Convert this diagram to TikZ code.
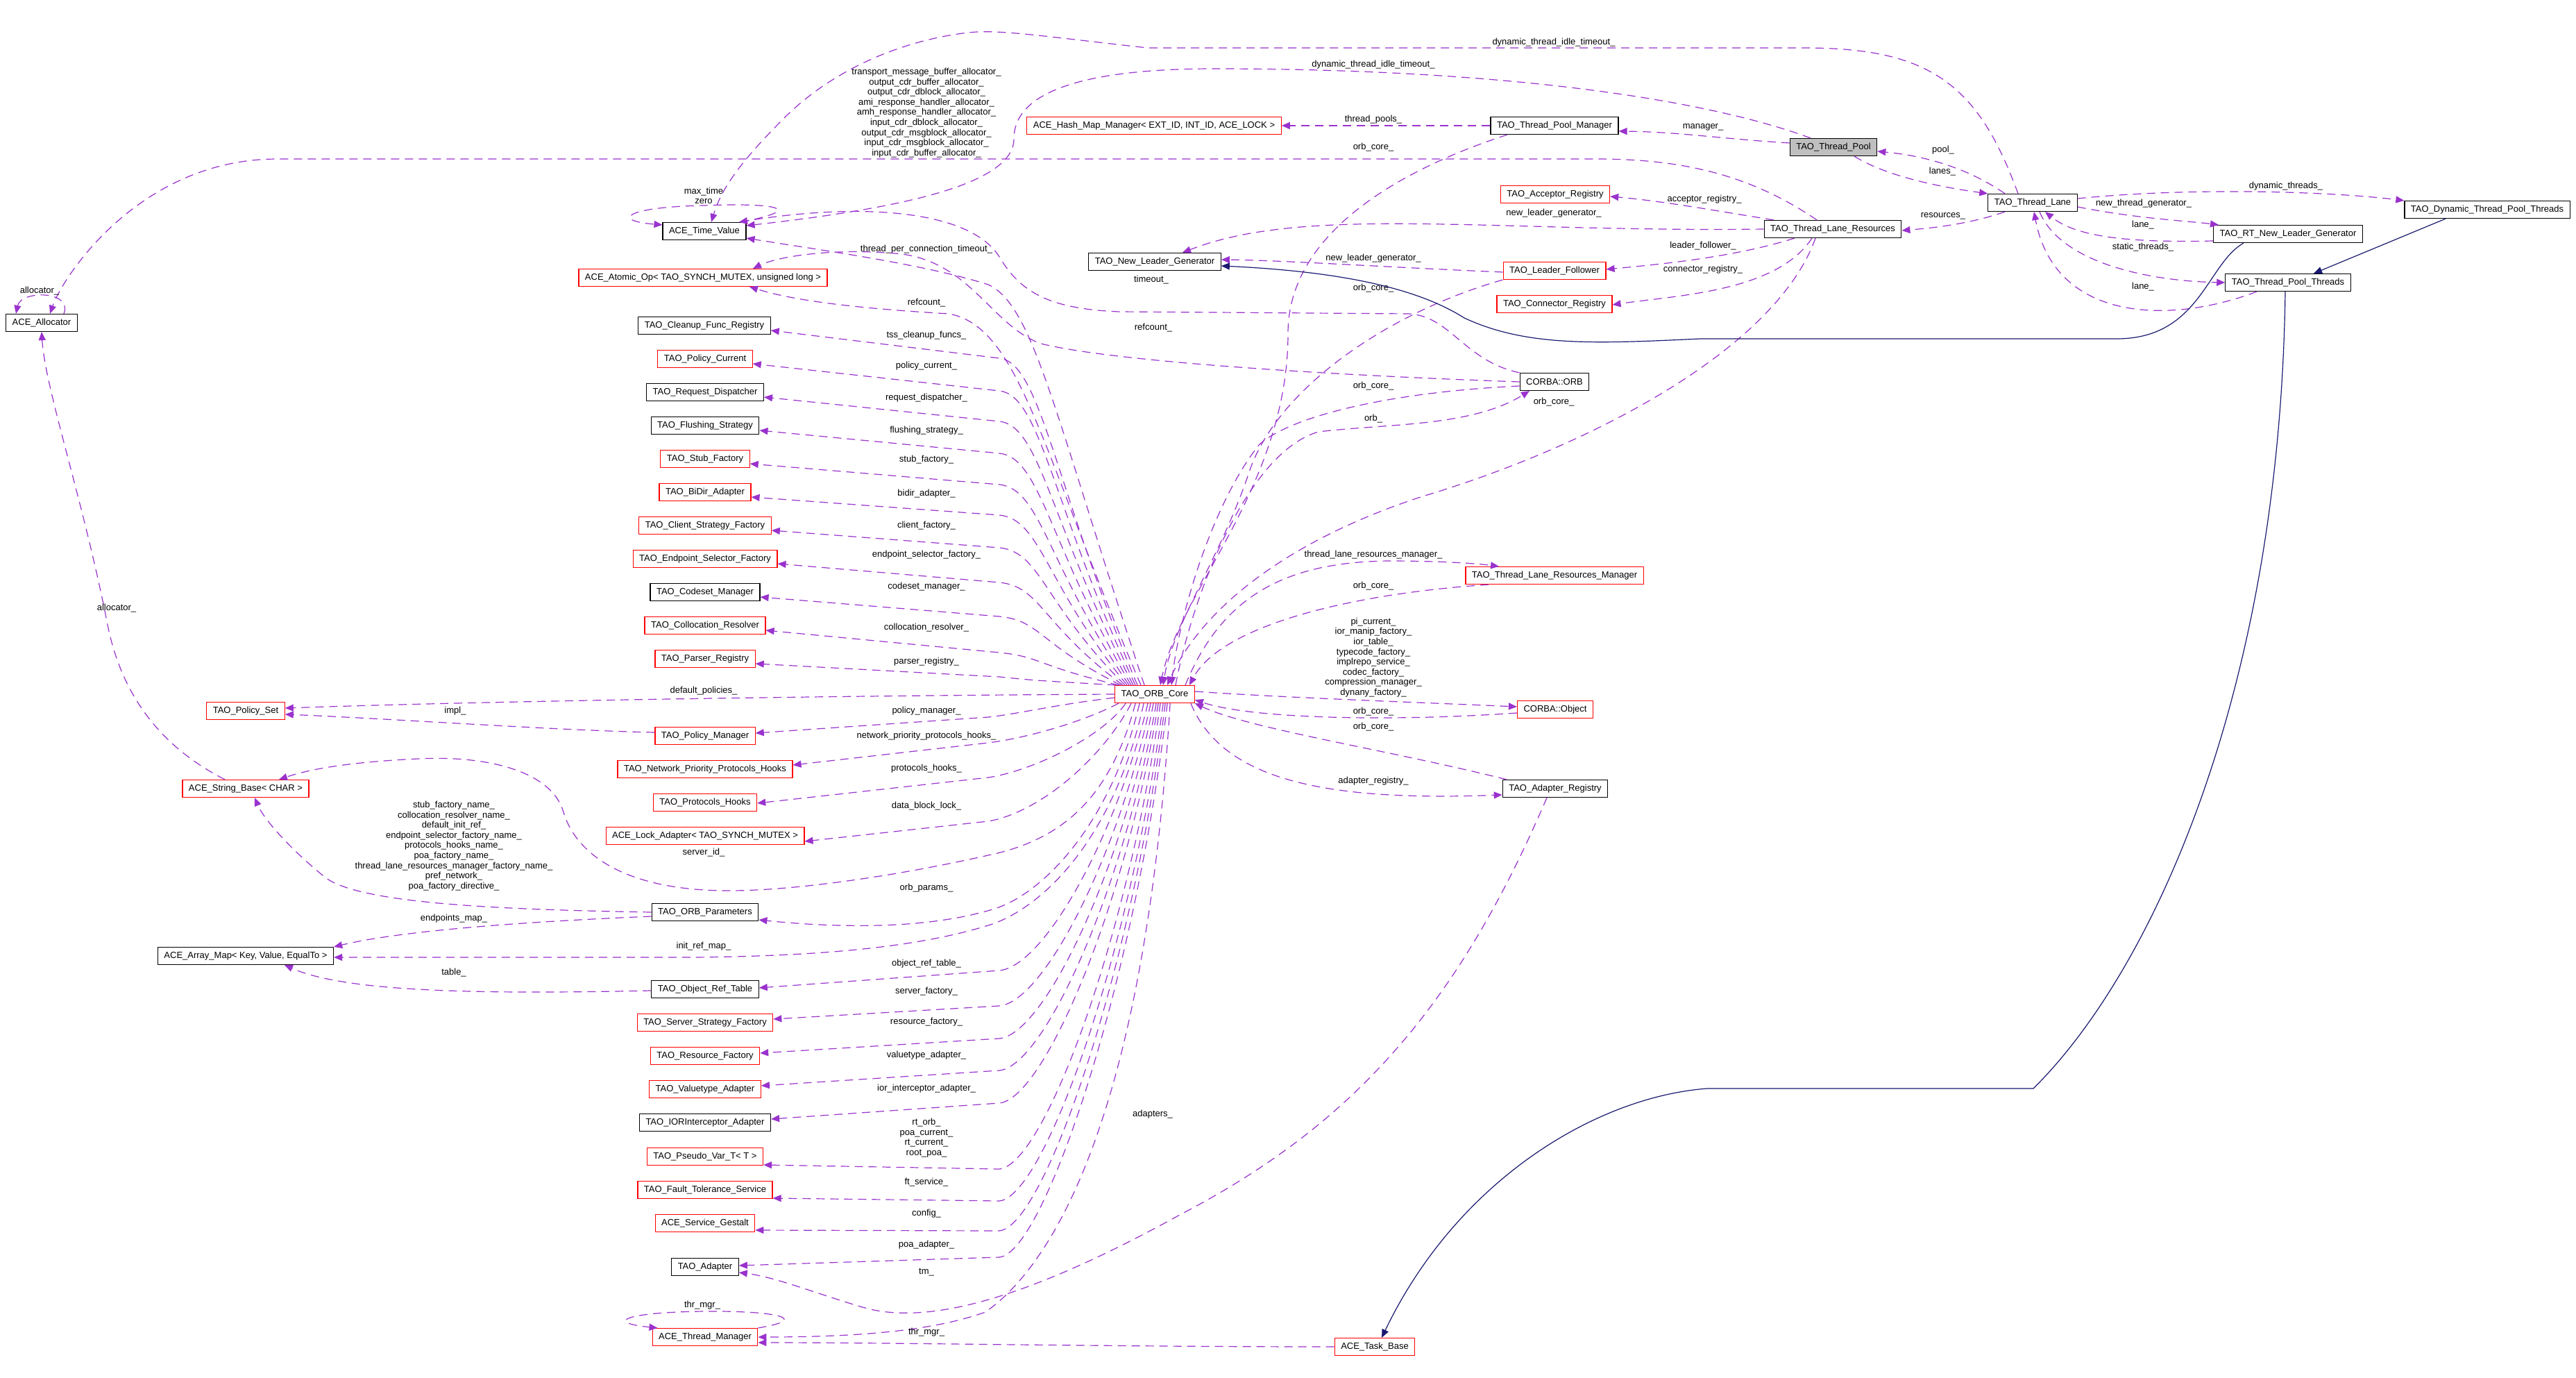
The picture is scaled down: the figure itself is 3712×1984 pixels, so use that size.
\documentclass[tikz,border=0pt]{standalone}
\usepackage{fontspec}
\setmainfont{Liberation Sans}
\usetikzlibrary{arrows.meta}
\definecolor{usecol}{HTML}{9A32CD}
\definecolor{inhcol}{HTML}{191970}
\definecolor{selfcol}{HTML}{BFBFBF}

\begin{document}
\begin{tikzpicture}[x=1pt,y=-1pt,
    cls/.style={draw=black, line width=1.2pt, inner xsep=9pt, inner ysep=0pt, minimum height=25pt, font=\fontsize{13}{15}\selectfont},
    undoc/.style={cls, draw=red},
    focus/.style={cls, fill=selfcol},
    lab/.style={font=\fontsize{13}{14.6}\selectfont, align=center, inner sep=0pt},
    use/.style={draw=usecol, line width=1.2pt, dash pattern=on 12pt off 8pt, -{Triangle[length=12pt,width=10pt]}},
    inh/.style={draw=inhcol, line width=1.2pt, -{Triangle[length=12pt,width=10pt]}}]
   \fill[white] (0,0) rectangle (3712,1984);
   % left part
   \node[cls] (alloc) at (60,465) {ACE\_Allocator};
   \node[undoc] (polset) at (354,1024) {TAO\_Policy\_Set};
   \node[undoc] (strbase) at (354,1136) {ACE\_String\_Base< CHAR >};
   \node[cls] (arraymap) at (354,1377) {ACE\_Array\_Map< Key, Value, EqualTo >};
   % column of members
   \node[cls] (timeval) at (1015,333) {ACE\_Time\_Value};
   \node[undoc] (atomic) at (1013,400) {ACE\_Atomic\_Op< TAO\_SYNCH\_MUTEX, unsigned long >};
   \node[cls] (cleanup) at (1015,469) {TAO\_Cleanup\_Func\_Registry};
   \node[undoc] (polcur) at (1016,517) {TAO\_Policy\_Current};
   \node[cls] (reqdisp) at (1016,565) {TAO\_Request\_Dispatcher};
   \node[cls] (flush) at (1016,613) {TAO\_Flushing\_Strategy};
   \node[undoc] (stubf) at (1016,661) {TAO\_Stub\_Factory};
   \node[undoc] (bidir) at (1016,709) {TAO\_BiDir\_Adapter};
   \node[undoc] (clientf) at (1016,757) {TAO\_Client\_Strategy\_Factory};
   \node[undoc] (epsel) at (1016,805) {TAO\_Endpoint\_Selector\_Factory};
   \node[cls] (codeset) at (1016,853) {TAO\_Codeset\_Manager};
   \node[undoc] (colloc) at (1016,901) {TAO\_Collocation\_Resolver};
   \node[undoc] (parser) at (1016,949) {TAO\_Parser\_Registry};
   \node[undoc] (polmgr) at (1016,1060) {TAO\_Policy\_Manager};
   \node[undoc] (npph) at (1016,1108) {TAO\_Network\_Priority\_Protocols\_Hooks};
   \node[undoc] (prothooks) at (1016,1156) {TAO\_Protocols\_Hooks};
   \node[undoc] (lockad) at (1016,1204) {ACE\_Lock\_Adapter< TAO\_SYNCH\_MUTEX >};
   \node[cls] (orbparams) at (1016,1314) {TAO\_ORB\_Parameters};
   \node[cls] (objref) at (1016,1425) {TAO\_Object\_Ref\_Table};
   \node[undoc] (srvstrat) at (1016,1473) {TAO\_Server\_Strategy\_Factory};
   \node[undoc] (resf) at (1016,1521) {TAO\_Resource\_Factory};
   \node[undoc] (valtype) at (1016,1569) {TAO\_Valuetype\_Adapter};
   \node[cls] (iorint) at (1016,1617) {TAO\_IORInterceptor\_Adapter};
   \node[undoc] (pseudo) at (1016,1666) {TAO\_Pseudo\_Var\_T< T >};
   \node[undoc] (ftserv) at (1016,1714) {TAO\_Fault\_Tolerance\_Service};
   \node[undoc] (gestalt) at (1016,1762) {ACE\_Service\_Gestalt};
   \node[cls] (adapter) at (1016,1825) {TAO\_Adapter};
   \node[undoc] (thrmgr) at (1016,1926) {ACE\_Thread\_Manager};
   % middle
   \node[undoc] (orbcore) at (1664,1000) {TAO\_ORB\_Core};
   \node[undoc] (hashmap) at (1663,181) {ACE\_Hash\_Map\_Manager< EXT\_ID, INT\_ID, ACE\_LOCK >};
   \node[cls] (tnlg) at (1664,377) {TAO\_New\_Leader\_Generator};
   \node[cls] (tpm) at (2240,181) {TAO\_Thread\_Pool\_Manager};
   \node[undoc] (acceptor) at (2241,280) {TAO\_Acceptor\_Registry};
   \node[undoc] (lf) at (2240,390) {TAO\_Leader\_Follower};
   \node[undoc] (connector) at (2240,438) {TAO\_Connector\_Registry};
   \node[cls] (orb) at (2240,550) {CORBA::ORB};
   \node[undoc] (tlrm) at (2240,829) {TAO\_Thread\_Lane\_Resources\_Manager};
   \node[undoc] (object) at (2241,1022) {CORBA::Object};
   \node[cls] (adreg) at (2241,1136) {TAO\_Adapter\_Registry};
   \node[undoc] (taskbase) at (1981,1940) {ACE\_Task\_Base};
   % right part
   \node[focus] (tpool) at (2642,212) {TAO\_Thread\_Pool};
   \node[cls] (tlr) at (2641,330) {TAO\_Thread\_Lane\_Resources};
   \node[cls] (tlane) at (2929,292) {TAO\_Thread\_Lane};
   \node[cls] (rtnlg) at (3297,337) {TAO\_RT\_New\_Leader\_Generator};
   \node[cls] (tpthreads) at (3297,407) {TAO\_Thread\_Pool\_Threads};
   \node[cls] (dyn) at (3584,302) {TAO\_Dynamic\_Thread\_Pool\_Threads};

   % allocators
   \draw[use] ([xshift=-23pt]tlr.north) .. controls (2520,250) and (2420,229) .. (2300,229) -- (400,229) .. controls (200,229) and (90,400) .. ([xshift=12pt]alloc.north);
   \node[lab] (l-allocs) at (1335,162.5) {transport\_message\_buffer\_allocator\_\\output\_cdr\_buffer\_allocator\_\\output\_cdr\_dblock\_allocator\_\\ami\_response\_handler\_allocator\_\\amh\_response\_handler\_allocator\_\\input\_cdr\_dblock\_allocator\_\\output\_cdr\_msgblock\_allocator\_\\input\_cdr\_msgblock\_allocator\_\\input\_cdr\_buffer\_allocator\_};
   \draw[use] ([xshift=32pt]alloc.north) .. controls (105,418) and (30,418) .. ([xshift=-37pt]alloc.north);
   \node[lab] (l-allocself) at (57,419) {allocator\_};
   \draw[use] ([xshift=-30pt]strbase.north) .. controls (230,1075) and (175,1000) .. (155,900) .. controls (120,720) and (65,560) .. (alloc.south);
   \node[lab] (l-allocstr) at (168,876) {allocator\_};

   % time values
   \draw[use] ([xshift=-21pt]tlane.north) .. controls (2850,120) and (2780,69) .. (2600,69) -- (1654,69) .. controls (1500,52) and (1440,42) .. (1395,47) .. controls (1300,58) and (1200,100) .. (1130,170) .. controls (1070,230) and (1040,270) .. ([xshift=10pt]timeval.north);
   \node[lab] (l-dtit1) at (2239,61) {dynamic\_thread\_idle\_timeout\_};
   \draw[use] ([xshift=-33pt]tpool.north) .. controls (2450,140) and (2150,99) .. (1750,99) .. controls (1600,99) and (1461,120) .. (1461,200) .. controls (1461,265) and (1300,300) .. ([yshift=8pt]timeval.east);
   \node[lab] (l-dtit2) at (1979,93) {dynamic\_thread\_idle\_timeout\_};
   \draw[use] ([xshift=-8pt]timeval.north east) .. controls (1170,300) and (1110,292) .. (1015,296) .. controls (900,298) and (880,318) .. ([yshift=-4pt]timeval.north west);
   \node[lab] (l-maxtime) at (1014,282) {max\_time\\zero};
   \draw[use] ([xshift=-15pt]orbcore.north) .. controls (1520,600) and (1490,440) .. (1424,410) .. controls (1330,380) and (1180,360) .. ([yshift=-10pt]timeval.east);
   \node[lab] (l-tpct) at (1335,359) {thread\_per\_connection\_timeout\_};
   \draw[use] (orb.north west) .. controls (2110,520) and (2090,455) .. (2030,452) -- (1613,449) .. controls (1510,445) and (1470,420) .. (1440,370) .. controls (1400,305) and (1250,290) .. ([xshift=50pt]timeval.north);
   \node[lab] (l-timeout) at (1659,403) {timeout\_};

   % refcounts
   \draw[use] ([xshift=-20pt]orbcore.north) .. controls (1500,650) and (1470,470) .. (1367,452) .. controls (1250,445) and (1150,435) .. ([xshift=67pt]atomic.south);
   \node[lab] (l-ref1) at (1335,436) {refcount\_};
   \draw[use] (orb.west) .. controls (1900,540) and (1600,520) .. (1500,495) .. controls (1430,470) and (1400,380) .. (1300,366) .. controls (1200,356) and (1120,370) .. ([xshift=72pt]atomic.north);
   \node[lab] (l-ref2) at (1662,472) {refcount\_};

   % members of the ORB core, upper half
   \foreach \nm/\yt/\ky/\ly/\lab/\sx in {
      cleanup/469/516/483/tss\_cleanup\_funcs\_/-25,
      polcur/517/563/527/policy\_current\_/-28,
      reqdisp/565/607/573/request\_dispatcher\_/-31,
      flush/613/653/620/flushing\_strategy\_/-34,
      stubf/661/698/662/stub\_factory\_/-37,
      bidir/709/742/711/bidir\_adapter\_/-40,
      clientf/757/789/757/client\_factory\_/-43,
      epsel/805/839/799/endpoint\_selector\_factory\_/-46,
      codeset/853/888/845/codeset\_manager\_/-49,
      colloc/901/940/904/collocation\_resolver\_/-52,
      parser/949/975/953/parser\_registry\_/-56}
   {
      \draw[use] ([xshift=\sx pt]orbcore.north) .. controls ({1545+\sx},{987-0.6*(987-\ky)}) and (1500,{\ky+6}) .. (1440,\ky) -- ([yshift=-7pt]\nm.east);
      \node[lab] (l-\nm) at (1335,\ly) {\lab};
   }

   % policies
   \draw[use] (orbcore.west) .. controls (1200,1002) and (700,1010) .. ([yshift=4pt]polset.east);
   \node[lab] (l-defpol) at (1014,995) {default\_policies\_};
   \draw[use] ([yshift=5pt]polmgr.west) .. controls (800,1052) and (560,1035) .. ([yshift=-5pt]polset.east);
   \node[lab] (l-impl) at (656,1024) {impl\_};
   \draw[use] ([yshift=-5pt]orbcore.west) .. controls (1520,1015) and (1470,1028) .. (1424,1033) -- ([yshift=4pt]polmgr.east);
   \node[lab] (l-polmgr) at (1335,1024) {policy\_manager\_};

   % members of the ORB core, lower half
   \draw[use] ([xshift=6pt]orbcore.south west) .. controls (1560,1040) and (1480,1063) .. (1424,1070) -- ([yshift=6pt]npph.east);
   \node[lab] (l-npph) at (1335,1060) {network\_priority\_protocols\_hooks\_};
   \draw[use] ([xshift=16pt]orbcore.south west) .. controls (1590,1060) and (1490,1110) .. (1424,1120) -- ([yshift=-1pt]prothooks.east);
   \node[lab] (l-prothooks) at (1335,1107) {protocols\_hooks\_};
   \draw[use] ([xshift=24pt]orbcore.south west) .. controls (1590,1090) and (1500,1170) .. (1424,1183) -- ([yshift=-8pt]lockad.east);
   \node[lab] (l-lockad) at (1335,1161) {data\_block\_lock\_};
   \draw[use] ([xshift=30pt]orbcore.south west) .. controls (1600,1150) and (1530,1210) .. (1424,1232) .. controls (1300,1260) and (1150,1283) .. (1050,1283) .. controls (900,1283) and (830,1230) .. (812,1170) .. controls (795,1110) and (700,1088) .. (603,1093) .. controls (520,1097) and (455,1105) .. ([xshift=48pt]strbase.north);
   \node[lab] (l-srvid) at (1014,1228) {server\_id\_};
   \draw[use] (orbparams.west) .. controls (700,1310) and (520,1300) .. (470,1265) .. controls (420,1225) and (380,1180) .. ([xshift=13pt]strbase.south);
   \node[lab] (l-names) at (654,1218.5) {stub\_factory\_name\_\\collocation\_resolver\_name\_\\default\_init\_ref\_\\endpoint\_selector\_factory\_name\_\\protocols\_hooks\_name\_\\poa\_factory\_name\_\\thread\_lane\_resources\_manager\_factory\_name\_\\pref\_network\_\\poa\_factory\_directive\_};
   \draw[use] ([xshift=36pt]orbcore.south west) .. controls (1600,1190) and (1500,1290) .. (1430,1310) .. controls (1330,1340) and (1200,1336) .. ([yshift=-11pt]orbparams.east);
   \node[lab] (l-orbparams) at (1335,1279) {orb\_params\_};
   \draw[use] ([yshift=-6pt]orbparams.west) .. controls (700,1330) and (560,1345) .. (arraymap.north east);
   \node[lab] (l-epmap) at (654,1323) {endpoints\_map\_};
   \draw[use] ([xshift=42pt]orbcore.south west) .. controls (1605,1210) and (1500,1310) .. (1424,1333) .. controls (1330,1362) and (1200,1377) .. (1000,1379) -- ([yshift=-2pt]arraymap.east);
   \node[lab] (l-initref) at (1014,1363) {init\_ref\_map\_};
   \draw[use] ([yshift=-2pt]objref.west) .. controls (700,1432) and (500,1430) .. ([xshift=56pt]arraymap.south);
   \node[lab] (l-table) at (654,1401) {table\_};
   \foreach \nm/\ys/\ky/\sx in {
      objref/2/1398/48, srvstrat/5/1449/52, resf/4/1496/56, valtype/5/1542/60,
      iorint/5/1589/63, pseudo/-12/1684/66, ftserv/-12/1730/70, gestalt/-10/1773/73,
      adapter/2/1811/76}
   {
      \draw[use] ([xshift=\sx pt]orbcore.south west) .. controls ({1560+\sx},{1012+0.5*(\ky-1012)}) and (1505,{\ky-6}) .. (1440,\ky) -- ([yshift=\ys pt]\nm.east);
   }
   \node[lab] (l-objref) at (1335,1388) {object\_ref\_table\_};
   \node[lab] (l-srvstrat) at (1335,1428) {server\_factory\_};
   \node[lab] (l-resf) at (1335,1472) {resource\_factory\_};
   \node[lab] (l-valtype) at (1335,1520) {valuetype\_adapter\_};
   \node[lab] (l-iorint) at (1335,1568) {ior\_interceptor\_adapter\_};
   \node[lab] (l-pseudo) at (1335,1639) {rt\_orb\_\\poa\_current\_\\rt\_current\_\\root\_poa\_};
   \node[lab] (l-ftserv) at (1335,1703) {ft\_service\_};
   \node[lab] (l-gestalt) at (1335,1748) {config\_};
   \node[lab] (l-poa) at (1335,1793) {poa\_adapter\_};
   \draw[use] ([xshift=80pt]orbcore.south west) .. controls (1650,1600) and (1520,1820) .. (1420,1890) .. controls (1350,1915) and (1250,1926) .. (thrmgr.east);
   \node[lab] (l-tm) at (1335,1833) {tm\_};
   \draw[use] (taskbase.west) .. controls (1600,1940) and (1300,1934) .. ([yshift=-8pt]thrmgr.east);
   \node[lab] (l-thrmgr) at (1335,1919) {thr\_mgr\_};
   \draw[use] (thrmgr.north east) .. controls (1170,1900) and (1120,1888) .. (1016,1889) .. controls (900,1890) and (870,1905) .. ([xshift=8pt]thrmgr.north west);
   \node[lab] (l-thrself) at (1012,1880) {thr\_mgr\_};

   % right side of the ORB core
   \draw[use] ([xshift=-68pt]tpm.south) .. controls (2030,240) and (1856,330) .. (1856,480) .. controls (1856,700) and (1700,850) .. ([xshift=8pt]orbcore.north);
   \node[lab] (l-oc1) at (1979,212) {orb\_core\_};
   \draw[use] (lf.south west) .. controls (2000,450) and (1840,560) .. (1800,680) .. controls (1760,800) and (1690,900) .. ([xshift=12pt]orbcore.north);
   \node[lab] (l-oc2) at (1979,415) {orb\_core\_};
   \draw[use] ([yshift=-6pt]orb.west) .. controls (2000,565) and (1860,600) .. (1815,640) .. controls (1750,720) and (1700,880) .. ([xshift=24pt]orbcore.north);
   \node[lab] (l-oc3) at (1979,556) {orb\_core\_};
   \draw[use] ([xshift=30pt]orbcore.north) .. controls (1720,850) and (1800,650) .. (1900,622) .. controls (2000,610) and (2120,615) .. ([xshift=-36pt]orb.south);
   \node[lab] (l-orb) at (1979,603) {orb\_};
   \draw[use] ([xshift=-25pt]tlr.south) .. controls (2560,500) and (2300,640) .. (2050,715) .. controls (1850,780) and (1730,880) .. ([xshift=18pt]orbcore.north);
   \node[lab] (l-oc4) at (2239,579) {orb\_core\_};
   \draw[use] ([xshift=44pt]orbcore.north) .. controls (1760,860) and (1850,810) .. (2000,808) .. controls (2080,808) and (2130,812) .. ([xshift=-80pt]tlrm.north);
   \node[lab] (l-tlrm) at (1979,799) {thread\_lane\_resources\_manager\_};
   \draw[use] ([xshift=-95pt]tlrm.south) .. controls (1950,855) and (1760,900) .. ([xshift=-8pt]orbcore.north east);
   \node[lab] (l-oc5) at (1979,844) {orb\_core\_};
   \draw[use] ([yshift=4pt]orbcore.east) .. controls (1850,1005) and (2050,1012) .. ([yshift=4pt]object.west);
   \node[lab] (l-object) at (1979,947) {pi\_current\_\\ior\_manip\_factory\_\\ior\_table\_\\typecode\_factory\_\\implrepo\_service\_\\codec\_factory\_\\compression\_manager\_\\dynany\_factory\_};
   \draw[use] ([yshift=-5pt]object.west) .. controls (2000,1040) and (1800,1035) .. ([yshift=-8pt]orbcore.east);
   \node[lab] (l-oc6) at (1979,1025) {orb\_core\_};
   \draw[use] ([xshift=-70pt]adreg.north) .. controls (2000,1080) and (1800,1050) .. (orbcore.south east);
   \node[lab] (l-oc7) at (1979,1047) {orb\_core\_};
   \draw[use] ([xshift=-6pt]orbcore.south east) .. controls (1760,1120) and (1900,1155) .. ([yshift=-9pt]adreg.west);
   \node[lab] (l-adreg) at (1979,1125) {adapter\_registry\_};
   \draw[use] ([xshift=-12pt]adreg.south) .. controls (2100,1450) and (1950,1620) .. (1700,1750) .. controls (1500,1860) and (1350,1910) .. (1250,1885) .. controls (1180,1865) and (1120,1840) .. ([yshift=-8pt]adapter.east);
   \node[lab] (l-adapters) at (1661,1605) {adapters\_};

   % thread pools
   \draw[use] (tpm.west) -- (hashmap.east);
   \node[lab] (l-pools) at (1979,172) {thread\_pools\_};
   \draw[use] ([yshift=6pt]tpool.west) .. controls (2480,200) and (2420,190) .. ([yshift=-8pt]tpm.east);
   \node[lab] (l-manager) at (2454,183) {manager\_};
   \draw[use] ([xshift=-40pt]tlane.north) .. controls (2840,245) and (2780,225) .. ([yshift=-6pt]tpool.east);
   \node[lab] (l-pool) at (2800,216) {pool\_};
   \draw[use] ([xshift=30pt]tpool.south) .. controls (2720,255) and (2800,270) .. (tlane.north west);
   \node[lab] (l-lanes) at (2799,247) {lanes\_};
   \draw[use] ([xshift=-40pt]tlane.south) .. controls (2840,322) and (2790,328) .. ([yshift=-2pt]tlr.east);
   \node[lab] (l-res) at (2800,311) {resources\_};
   \draw[use] ([yshift=6pt]tlane.east) .. controls (3150,270) and (3350,275) .. (dyn.north west);
   \node[lab] (l-dynthr) at (3294,268) {dynamic\_threads\_};
   \draw[use] ([yshift=-6pt]tlane.east) .. controls (3080,315) and (3150,318) .. ([xshift=8pt]rtnlg.north west);
   \node[lab] (l-ntg) at (3089,293) {new\_thread\_generator\_};
   \draw[use] ([yshift=-10pt]rtnlg.west) .. controls (3060,350) and (2990,340) .. ([xshift=18pt]tlane.south);
   \node[lab] (l-lane1) at (3088,324) {lane\_};
   \draw[use] ([xshift=10pt]tlane.south) .. controls (2970,380) and (3100,405) .. (tpthreads.west);
   \node[lab] (l-static) at (3088,356) {static\_threads\_};
   \draw[use] ([xshift=-45pt]tpthreads.south) .. controls (3120,470) and (2960,460) .. ([xshift=2pt]tlane.south);
   \node[lab] (l-lane2) at (3088,413) {lane\_};

   % thread lane resources
   \draw[use] ([xshift=-85pt]tlr.north) .. controls (2480,305) and (2400,290) .. ([yshift=-3pt]acceptor.east);
   \node[lab] (l-acc) at (2456,287) {acceptor\_registry\_};
   \draw[use] (tlr.west) .. controls (2150,335) and (1880,295) .. ([xshift=40pt]tnlg.north);
   \node[lab] (l-nlg1) at (2239,307) {new\_leader\_generator\_};
   \draw[use] ([xshift=-55pt]tlr.south) .. controls (2500,370) and (2400,380) .. ([yshift=2pt]lf.east);
   \node[lab] (l-lf) at (2454,354) {leader\_follower\_};
   \draw[use] ([xshift=-30pt]tlr.south) .. controls (2560,420) and (2420,425) .. ([yshift=-1pt]connector.east);
   \node[lab] (l-conn) at (2454,388) {connector\_registry\_};
   \draw[use] ([yshift=-2pt]lf.west) .. controls (2000,385) and (1850,375) .. ([yshift=3pt]tnlg.east);
   \node[lab] (l-nlg2) at (1979,372) {new\_leader\_generator\_};

   % inheritance
   \draw[inh] ([xshift=-64pt]rtnlg.south) .. controls (3180,380) and (3170,488) .. (3050,488) -- (2450,488) .. controls (2300,495) and (2200,500) .. (2110,458) .. controls (2050,420) and (1950,392) .. ([yshift=-6pt]tnlg.east);
   \draw[inh] ([xshift=-60pt]dyn.south) -- ([xshift=37pt]tpthreads.north);
   \draw[inh] ([xshift=-4pt]tpthreads.south) .. controls (3285,1000) and (3100,1400) .. (2930,1568) -- (2460,1568) .. controls (2300,1580) and (2100,1700) .. ([xshift=10pt]taskbase.north);
 \end{tikzpicture}
\end{document}
